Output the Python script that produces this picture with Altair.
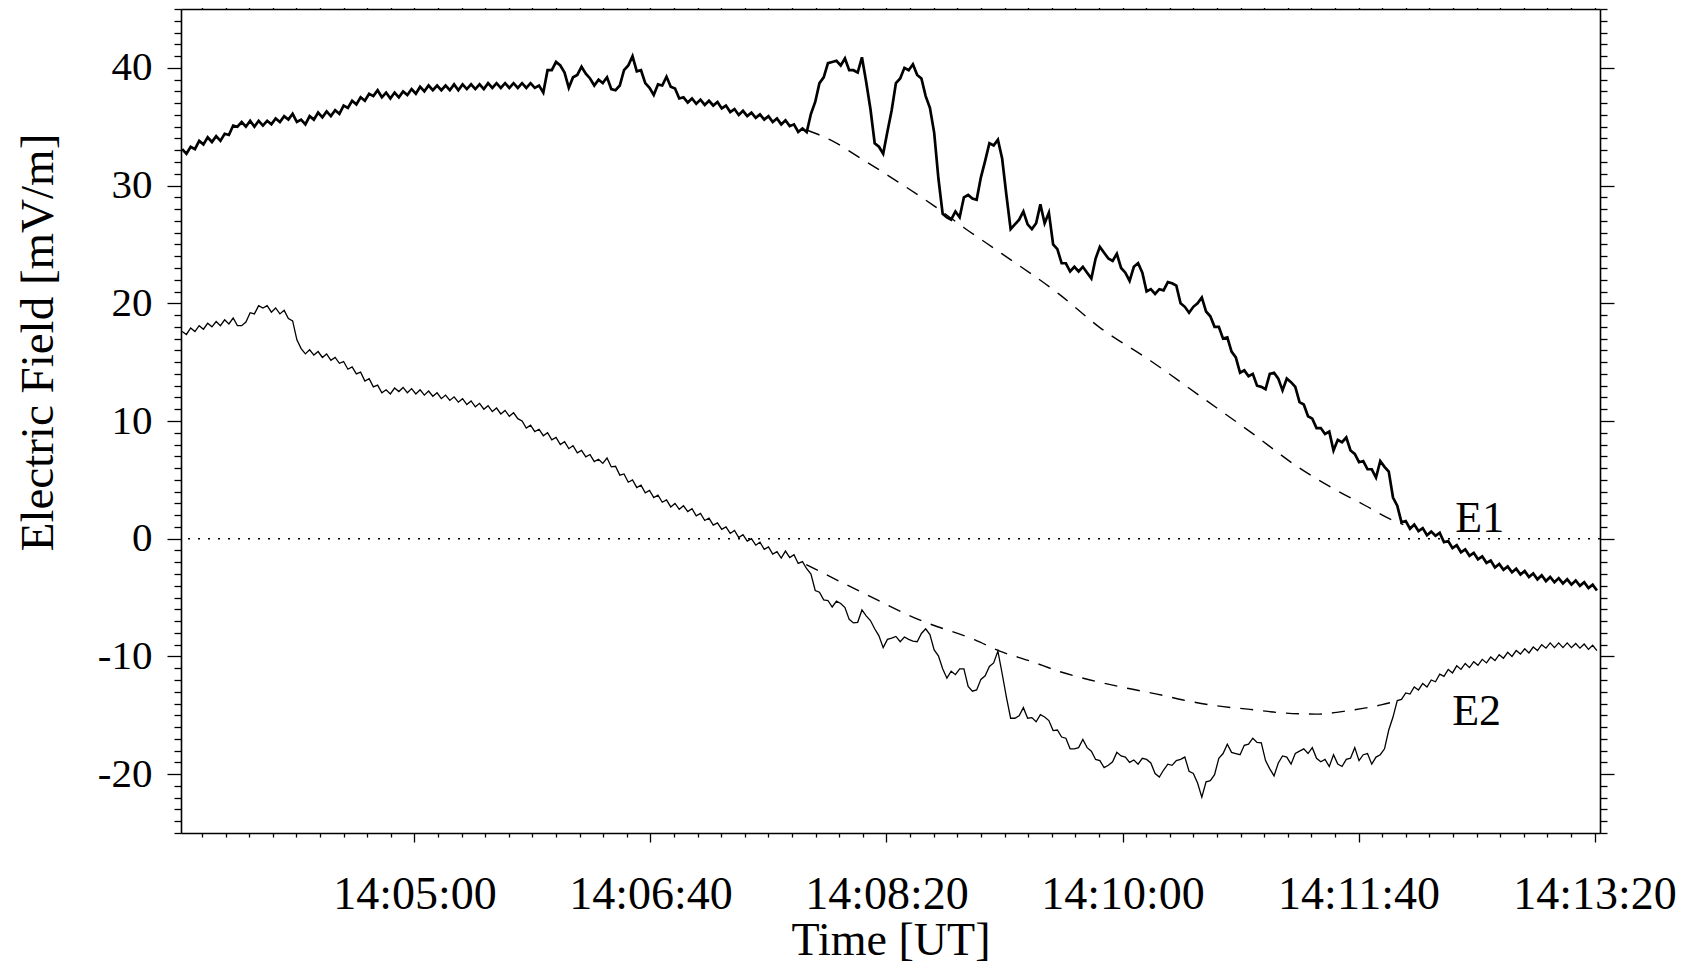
import altair as alt
import pandas as pd

# ---------------- data ----------------
# samples every 1.8 s, seconds after 14:00:00 UT
T_START = 201.6
T_STEP = 1.8

E1 = [
    33.1, 32.7, 33.3, 33.1, 33.8, 33.5, 34.1, 33.7, 34.2, 33.8,
    34.4, 34.3, 35.1, 35.0, 35.4, 35.0, 35.5, 35.0, 35.5, 35.1,
    35.5, 35.2, 35.7, 35.4, 35.9, 35.6, 36.1, 35.4, 35.6, 35.2,
    35.9, 35.6, 36.2, 35.8, 36.3, 35.9, 36.4, 36.1, 36.8, 36.6,
    37.2, 36.9, 37.5, 37.2, 37.8, 37.6, 38.1, 37.5, 37.9, 37.4,
    37.9, 37.5, 38.0, 37.7, 38.2, 37.8, 38.4, 38.0, 38.5, 38.1,
    38.5, 38.1, 38.5, 38.1, 38.6, 38.1, 38.6, 38.2, 38.6, 38.2,
    38.6, 38.2, 38.7, 38.3, 38.7, 38.3, 38.7, 38.3, 38.7, 38.3,
    38.7, 38.3, 38.7, 38.3, 38.5, 37.9, 39.8, 39.8, 40.5, 40.2,
    39.6, 38.3, 39.2, 39.4, 40.1, 39.5, 39.1, 38.5, 39.0, 38.7,
    39.2, 38.2, 38.1, 38.5, 39.8, 40.2, 41.0, 39.7, 39.8, 38.7,
    38.3, 37.7, 38.6, 38.5, 39.25, 38.4, 38.25, 37.4, 37.5, 37.05,
    37.4, 36.95, 37.3, 36.85, 37.2, 36.8, 37.1, 36.55, 36.8, 36.25,
    36.5, 36.0, 36.35, 35.9, 36.2, 35.75, 36.05, 35.6, 35.9, 35.4,
    35.7, 35.2, 35.55, 35.05, 35.2, 34.55, 34.85, 34.55, 36.1, 37.1,
    38.7, 39.2, 40.4, 40.5, 40.6, 40.2, 40.8, 39.8, 39.8, 39.6,
    40.9, 38.8, 36.5, 33.6, 33.3, 32.7, 34.6, 36.4, 38.7, 39.1,
    40.0, 39.8, 40.3, 39.4, 39.1, 37.6, 36.6, 34.5, 30.6, 27.6,
    27.3, 27.1, 27.8, 27.3, 29.0, 29.2, 28.9, 28.8, 30.7, 32.1,
    33.6, 33.4, 33.9, 32.3, 29.2, 26.3, 26.7, 27.1, 27.8, 26.7,
    26.3, 26.8, 28.4, 26.8, 27.7, 25.0, 24.6, 23.4, 23.4, 22.7,
    23.1, 22.7, 23.1, 22.6, 22.1, 23.8, 24.8, 24.3, 23.8, 23.6,
    24.2, 23.0, 22.6, 21.9, 23.1, 23.4, 22.6, 21.0, 21.2, 20.8,
    21.2, 21.1, 21.8, 21.7, 21.5, 20.0, 19.7, 19.2, 19.7, 20.0,
    20.5, 19.3, 18.9, 18.0, 18.0, 17.0, 17.1, 15.9, 15.4, 14.1,
    14.3, 13.8, 14.0, 13.0, 12.9, 12.7, 14.0, 14.1, 13.6, 12.6,
    13.6, 13.3, 12.9, 11.6, 11.4, 10.4, 10.2, 9.4, 9.4, 8.9,
    9.1, 7.5, 8.4, 8.2, 8.6, 7.5, 7.2, 6.5, 6.6, 5.9,
    5.9, 5.2, 6.6, 6.1, 5.7, 3.5, 2.8, 1.4, 1.5, 0.85,
    1.2, 0.65, 0.9, 0.3, 0.6, 0.25, 0.5, -0.3, -0.2, -0.8,
    -0.55, -1.15, -0.9, -1.45, -1.2, -1.75, -1.5, -2.05, -1.85, -2.45,
    -2.15, -2.65, -2.35, -2.85, -2.55, -3.05, -2.75, -3.25, -2.95, -3.45,
    -3.1, -3.6, -3.25, -3.7, -3.35, -3.8, -3.45, -3.9, -3.55, -4.0,
    -3.7, -4.2, -3.9, -4.4,
]

E2 = [
    17.6, 17.35, 17.9, 17.6, 18.1, 17.8, 18.3, 18.0, 18.45, 18.1,
    18.6, 18.25, 18.75, 18.1, 18.1, 18.4, 19.2, 19.1, 19.8, 19.6,
    19.8, 19.25, 19.6, 19.1, 19.4, 18.7, 18.5, 16.9, 16.15, 15.7,
    16.05, 15.6, 15.9, 15.4, 15.7, 15.15, 15.4, 14.9, 15.05, 14.4,
    14.6, 14.0, 14.15, 13.4, 13.6, 12.9, 13.05, 12.4, 12.65, 12.3,
    12.8, 12.5, 12.85, 12.4, 12.75, 12.3, 12.65, 12.2, 12.55, 12.1,
    12.4, 11.9, 12.2, 11.75, 12.05, 11.6, 11.9, 11.4, 11.7, 11.2,
    11.5, 11.0, 11.3, 10.8, 11.1, 10.6, 10.9, 10.4, 10.7, 10.2,
    10.0, 9.4, 9.65, 9.1, 9.3, 8.75, 9.0, 8.4, 8.6, 8.0,
    8.25, 7.65, 7.9, 7.3, 7.5, 6.95, 7.15, 6.55, 6.75, 6.4,
    6.85, 6.1, 6.15, 5.4, 5.5, 4.8, 5.0, 4.35, 4.55, 3.9,
    4.1, 3.5, 3.7, 3.1, 3.3, 2.7, 3.0, 2.5, 2.8, 2.3,
    2.55, 1.95, 2.15, 1.55, 1.75, 1.15, 1.35, 0.8, 1.0, 0.45,
    0.7, 0.1, 0.35, -0.2, 0.0, -0.55, -0.3, -0.9, -0.7, -1.3,
    -1.1, -1.65, -1.05, -1.6, -1.35, -2.1, -1.95, -2.55, -3.0, -4.4,
    -4.55, -5.2, -5.25, -5.8, -5.3, -5.5, -5.85, -6.85, -7.15, -7.1,
    -6.05, -6.55, -6.95, -7.65, -8.25, -9.25, -8.55, -8.45, -8.3, -8.75,
    -8.35, -8.55, -8.7, -8.75, -8.05, -7.65, -8.15, -9.45, -9.95, -11.05,
    -11.85, -11.25, -11.55, -11.05, -11.05, -12.55, -12.95, -12.85, -11.95, -11.65,
    -10.85, -10.55, -9.55, -11.45, -13.45, -15.25, -15.25, -15.05, -14.35, -15.25,
    -15.2, -15.55, -14.95, -15.15, -15.45, -16.3, -16.25, -16.85, -16.95, -17.85,
    -17.85, -17.75, -17.05, -17.75, -18.05, -18.75, -18.85, -19.45, -19.25, -18.95,
    -18.15, -18.45, -18.55, -19.0, -18.8, -19.15, -18.65, -18.75, -19.05, -19.95,
    -20.25, -19.65, -19.15, -19.25, -18.85, -18.75, -18.55, -19.75, -19.95, -20.75,
    -21.95, -20.65, -20.55, -20.05, -18.65, -18.25, -17.45, -18.15, -18.25, -18.35,
    -17.55, -17.45, -16.95, -17.3, -17.35, -18.85, -19.55, -20.15, -19.05, -18.45,
    -18.55, -19.15, -18.25, -18.05, -17.85, -18.25, -17.75, -18.65, -18.95, -18.75,
    -19.35, -18.35, -19.15, -19.35, -18.75, -18.65, -17.75, -18.85, -18.35, -18.25,
    -19.15, -18.55, -18.35, -17.85, -16.25, -15.15, -13.75, -13.65, -13.1, -13.2,
    -12.6, -12.85, -12.3, -12.6, -12.0, -12.15, -11.5, -11.7, -11.1, -11.4,
    -10.8, -11.1, -10.6, -10.95, -10.45, -10.75, -10.25, -10.55, -10.05, -10.35,
    -9.85, -10.15, -9.65, -10.0, -9.5, -9.8, -9.35, -9.7, -9.2, -9.5,
    -9.0, -9.3, -8.85, -9.25, -8.85, -9.25, -8.85, -9.25, -8.9, -9.3,
    -8.95, -9.4, -9.05, -9.5,
]

T = [round(T_START + T_STEP * i, 1) for i in range(len(E1))]

# dashed model curves
MODEL1_T = [466.5, 476, 490, 505, 520, 533, 549, 573, 590, 612, 633, 654, 675, 689, 703, 713, 719]
MODEL1_V = [34.7, 33.9, 32.2, 30.3, 28.3, 26.4, 24.2, 20.8, 18.0, 15.1, 12.1, 9.1, 6.0, 4.3, 2.8, 1.7, 1.2]
MODEL2_T = [466, 490, 514, 537.5, 548, 561, 573.6, 586.3, 602, 614.6, 625.7, 640, 654, 668, 682, 696, 710, 714]
MODEL2_V = [-2.2, -4.6, -6.9, -8.6, -9.55, -10.4, -11.3, -12.0, -12.7, -13.2, -13.7, -14.2, -14.5,
            -14.8, -14.9, -14.6, -14.1, -13.9]

# curve labels
LABEL_TEXT = ["E1", "E2"]
LABEL_T = [741.0, 739.7]
LABEL_V = [0.56, -15.8]

# axes
X_DOMAIN = [201.1, 802.3]
Y_DOMAIN = [-25, 45]
X_TICKS = list(range(210, 801, 10))
X_TICK_LABELS = {300: "14:05:00", 400: "14:06:40", 500: "14:08:20",
                 600: "14:10:00", 700: "14:11:40", 800: "14:13:20"}
Y_TICKS = list(range(-25, 46))
Y_TITLE = "Electric Field [mV/m]"
X_TITLE = "Time [UT]"

FONT = "Liberation Serif"

# ---------------- chart ----------------
assert len(E1) == len(E2) == len(T)
df = pd.DataFrame({"t": T, "e1": E1, "e2": E2})
m1 = pd.DataFrame({"t": MODEL1_T, "v": MODEL1_V})
m2 = pd.DataFrame({"t": MODEL2_T, "v": MODEL2_V})
lab = pd.DataFrame({"t": LABEL_T, "v": LABEL_V, "txt": LABEL_TEXT})
zero = pd.DataFrame({"v": [0]})

xscale = alt.Scale(domain=X_DOMAIN, nice=False, zero=False)
yscale = alt.Scale(domain=Y_DOMAIN, nice=False, zero=False)

x_label_expr = " : ".join(f"datum.value == {k} ? '{v}'" for k, v in X_TICK_LABELS.items()) + " : ''"
x_tick_size = {"condition": {"test": "datum.value % 100 == 0", "value": 9}, "value": 4}
y_tick_size = {"condition": {"test": "datum.value % 10 == 0", "value": 14}, "value": 7}

common = dict(domainColor="black", domainWidth=1.6, tickColor="black", tickWidth=1.3,
              grid=False, ticks=True)

x_bottom = alt.Axis(orient="bottom", values=X_TICKS, labelExpr=x_label_expr,
                    tickSize=x_tick_size, labelFont=FONT, labelFontSize=46,
                    labelColor="black", labelPadding=30, labelBaseline="top",
                    labelAngle=0, labelFlush=False, labelOverlap=False, labelBound=False,
                    title=X_TITLE, titleFont=FONT, titleFontSize=46,
                    titleFontWeight="normal", titleColor="black",
                    titleY=121, titleBaseline="alphabetic", **common)
x_top = alt.Axis(orient="top", values=X_TICKS, labels=False, tickSize=x_tick_size,
                 title=None, **common)
y_left = alt.Axis(orient="left", values=Y_TICKS,
                  labelExpr="datum.value % 10 == 0 ? '' + datum.value : ''",
                  tickSize=y_tick_size, labelFont=FONT, labelFontSize=41,
                  labelColor="black", labelPadding=15, labelOverlap=False,
                  labelFlush=False, labelBound=False,
                  title=Y_TITLE, titleFont=FONT, titleFontSize=47,
                  titleFontWeight="normal", titleColor="black",
                  titleX=-129, titleY=333, titleAlign="center",
                  titleBaseline="alphabetic", **common)
y_right = alt.Axis(orient="right", values=Y_TICKS, labels=False, tickSize=y_tick_size,
                   title=None, **common)

zero_rule = alt.Chart(zero).mark_rule(color="black", strokeWidth=1.6, strokeDash=[2, 8]).encode(
    y=alt.Y("v:Q", scale=yscale, axis=None)
)
model1 = alt.Chart(m1).mark_line(color="black", strokeWidth=1.4, strokeDash=[13, 10],
                                 interpolate="monotone").encode(
    x=alt.X("t:Q", scale=xscale, axis=None), y=alt.Y("v:Q", scale=yscale, axis=None)
)
model2 = alt.Chart(m2).mark_line(color="black", strokeWidth=1.4, strokeDash=[13, 10],
                                 interpolate="monotone").encode(
    x=alt.X("t:Q", scale=xscale, axis=None), y=alt.Y("v:Q", scale=yscale, axis=None)
)
e2_line = alt.Chart(df).mark_line(color="black", strokeWidth=1.3).encode(
    x=alt.X("t:Q", scale=xscale, axis=x_top),
    y=alt.Y("e2:Q", scale=yscale, axis=y_right),
)
e1_line = alt.Chart(df).mark_line(color="black", strokeWidth=2.7).encode(
    x=alt.X("t:Q", scale=xscale, axis=x_bottom),
    y=alt.Y("e1:Q", scale=yscale, axis=y_left),
)
labels = alt.Chart(lab).mark_text(font=FONT, fontSize=44, color="black", align="left",
                                  baseline="alphabetic").encode(
    x=alt.X("t:Q", scale=xscale, axis=None),
    y=alt.Y("v:Q", scale=yscale, axis=None),
    text="txt:N",
)

chart = alt.layer(zero_rule, model1, model2, e2_line, e1_line, labels).resolve_axis(
    x="independent", y="independent"
).properties(
    width=1419, height=824,
    autosize=alt.AutoSizeParams(type="none"),
    padding={"left": 173, "top": 1, "right": 85, "bottom": 133},
).configure_view(stroke=None).configure(background="white")

chart.save("out.html", embed_options={"renderer": "svg", "actions": False})
